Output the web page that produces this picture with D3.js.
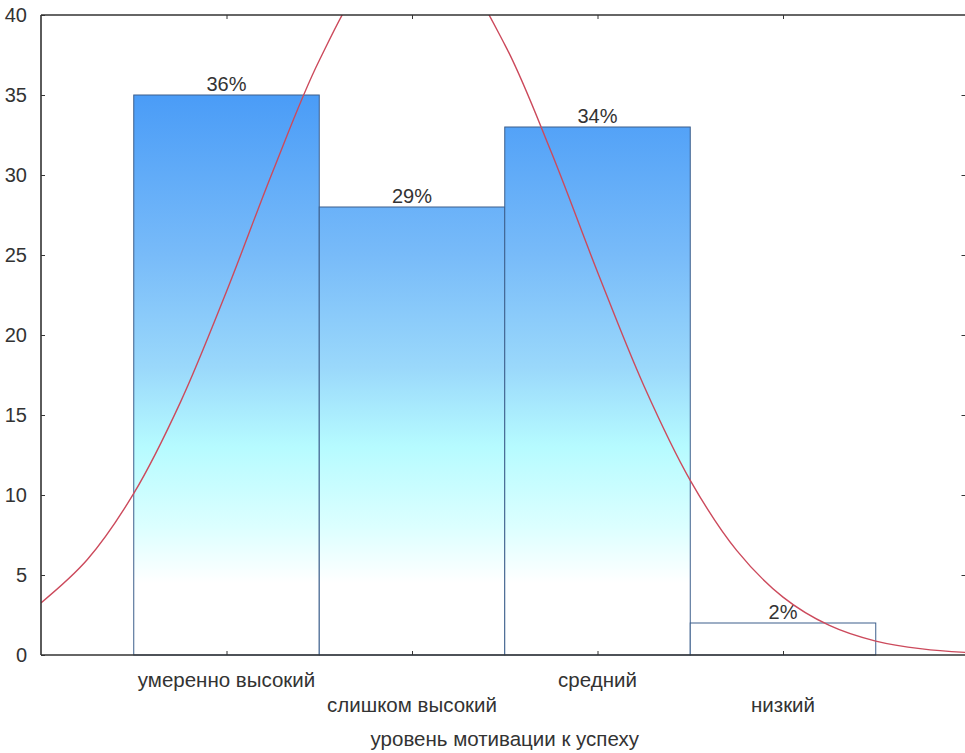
<!DOCTYPE html>
<html>
<head>
<meta charset="utf-8">
<script src="https://cdn.jsdelivr.net/npm/d3@7"></script>
<style>
  html, body { margin: 0; padding: 0; background: #fff; }
  svg { display: block; }
  text { font-family: "Liberation Sans", Arial, sans-serif; fill: #333; }
</style>
</head>
<body>
<svg id="chart" width="965" height="753"></svg>
<script>
// ---- data ----
const categories = ["умеренно высокий", "слишком высокий", "средний", "низкий"];
const counts = [35, 28, 33, 2];
const percentLabels = ["36%", "29%", "34%", "2%"];
const yTicks = [0, 5, 10, 15, 20, 25, 30, 35, 40];
const xTitle = "уровень мотивации к успеху";
// expected-normal curve, read at category positions 0..5
const curveX = [0, 0.25, 0.5, 0.75, 1, 1.25, 1.5, 1.75, 2, 2.25, 2.5, 2.75, 3, 3.25, 3.5, 3.75, 4, 4.25, 4.5, 4.75, 5];
const curveY = [3.26, 5.97, 10.10, 15.76, 22.72, 30.24, 37.16, 42.16, 44.17, 42.72, 38.15, 31.45, 23.94, 16.83, 10.92, 6.54, 3.62, 1.85, 0.87, 0.38, 0.15];

// ---- layout ----
const svg = d3.select("#chart");
const pLeft = 41, pRight = 968.5, pTop = 15, pBottom = 655;
const x = d3.scaleLinear().domain([0, categories.length + 1]).range([pLeft, pRight]);
const y = d3.scaleLinear().domain([0, 40]).range([pBottom, pTop]);

// gradient (shared across the plot)
const defs = svg.append("defs");
const grad = defs.append("linearGradient")
  .attr("id", "barGrad").attr("gradientUnits", "userSpaceOnUse")
  .attr("x1", 0).attr("x2", 0).attr("y1", y(40)).attr("y2", y(0));
const stops = [
  [40, "#3d90f4"], [35, "#4a9cf7"], [25, "#78bbf9"], [18, "#9ad8fb"],
  [13, "#b6fbff"], [8, "#dcffff"], [4.5, "#ffffff"], [0, "#ffffff"]
];
stops.forEach(([v, c]) => {
  grad.append("stop").attr("offset", (y(v) - y(40)) / (y(0) - y(40))).attr("stop-color", c);
});
defs.append("clipPath").attr("id", "plotClip")
  .append("rect").attr("x", pLeft).attr("y", pTop).attr("width", pRight - pLeft).attr("height", pBottom - pTop);

// bars
svg.append("g").selectAll("rect").data(counts).join("rect")
  .attr("x", (d, i) => x(i + 0.5))
  .attr("width", (d, i) => x(i + 1.5) - x(i + 0.5))
  .attr("y", d => y(d))
  .attr("height", d => y(0) - y(d))
  .attr("fill", "url(#barGrad)")
  .attr("stroke", "#3d5f8c")
  .attr("stroke-width", 1);

// percent labels
svg.append("g").selectAll("text").data(counts).join("text")
  .attr("x", (d, i) => x(i + 1))
  .attr("y", d => y(d) - 4)
  .attr("text-anchor", "middle")
  .attr("font-size", 20)
  .text((d, i) => percentLabels[i]);

// normal curve
const line = d3.line().x((d, i) => x(curveX[i])).y(d => y(d)).curve(d3.curveCatmullRom);
svg.append("path").datum(curveY)
  .attr("clip-path", "url(#plotClip)")
  .attr("d", line)
  .attr("fill", "none")
  .attr("stroke", "#cc4a5c")
  .attr("stroke-width", 1.4);

// axes lines / frame
const axisColor = "#333";
svg.append("line").attr("x1", pLeft).attr("x2", pLeft).attr("y1", pTop).attr("y2", pBottom)
  .attr("stroke", axisColor).attr("stroke-width", 1.6);
svg.append("line").attr("x1", pLeft).attr("x2", 965).attr("y1", pBottom).attr("y2", pBottom)
  .attr("stroke", axisColor).attr("stroke-width", 1.6);
svg.append("line").attr("x1", pLeft).attr("x2", 965).attr("y1", pTop).attr("y2", pTop)
  .attr("stroke", axisColor).attr("stroke-width", 1.6);

// left ticks (inward) and labels
const yAxis = d3.axisLeft(y).tickValues(yTicks).tickSize(-4).tickPadding(14).tickFormat(d3.format("d"));
const gy = svg.append("g").attr("transform", `translate(${pLeft},0)`).call(yAxis);
gy.select(".domain").remove();
gy.selectAll("line").attr("stroke", axisColor);
gy.selectAll("text").attr("font-size", 20).attr("fill", "#333")
  .style("font-family", "'Liberation Sans', Arial, sans-serif");

// right ticks (inward)
const gyr = svg.append("g").attr("transform", `translate(${pRight - 3},0)`)
  .call(d3.axisRight(y).tickValues(yTicks.filter(v => v > 0 && v < 40)).tickSize(-4).tickFormat(""));
gyr.select(".domain").remove();
gyr.selectAll("line").attr("stroke", axisColor);

// bottom/top ticks (inward) at category centres
const catPos = categories.map((c, i) => i + 1);
const gx = svg.append("g").attr("transform", `translate(0,${pBottom})`)
  .call(d3.axisBottom(x).tickValues(catPos).tickSize(-4).tickFormat(""));
gx.select(".domain").remove();
gx.selectAll("line").attr("stroke", axisColor);
const gxt = svg.append("g").attr("transform", `translate(0,${pTop})`)
  .call(d3.axisTop(x).tickValues(catPos).tickSize(-4).tickFormat(""));
gxt.select(".domain").remove();
gxt.selectAll("line").attr("stroke", axisColor);

// staggered category labels
svg.append("g").selectAll("text").data(categories).join("text")
  .attr("x", (d, i) => x(i + 1))
  .attr("y", (d, i) => i % 2 === 0 ? 687 : 712)
  .attr("text-anchor", "middle")
  .attr("font-size", 20.5)
  .text(d => d);

// axis title
svg.append("text")
  .attr("x", (pLeft + pRight) / 2)
  .attr("y", 746)
  .attr("text-anchor", "middle")
  .attr("font-size", 20.5)
  .text(xTitle);
</script>
</body>
</html>
